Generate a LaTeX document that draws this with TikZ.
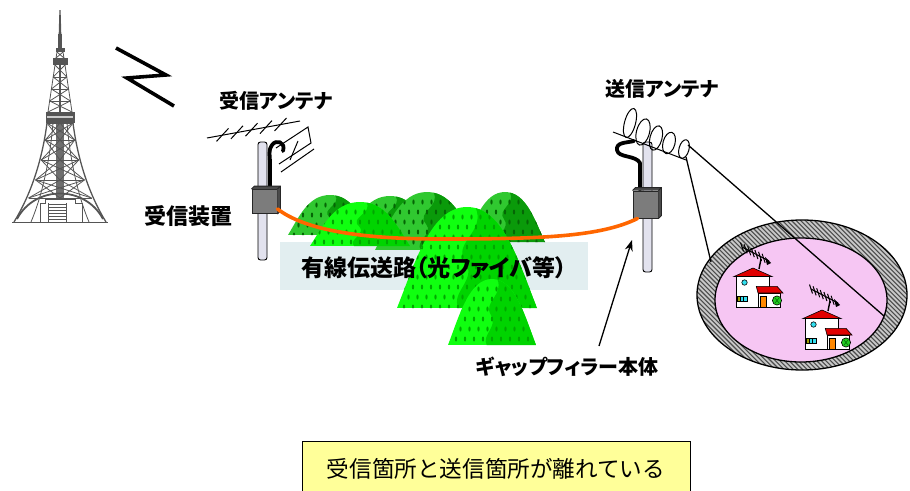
\documentclass[tikz,border=0pt]{standalone}
\usepackage{fontspec}
\newfontfamily\jp{Noto Sans CJK JP}[RawFeature=+palt]
\newfontfamily\jpm{Noto Sans CJK JP}
\usetikzlibrary{arrows.meta,calc}

\definecolor{cablecol}{HTML}{FF6600}
\definecolor{hillA}{HTML}{30C830}
\definecolor{hillAd}{HTML}{0A9A0A}
\definecolor{dotA}{HTML}{056605}
\definecolor{hillB}{HTML}{10FF10}
\definecolor{hillBd}{HTML}{00D400}
\definecolor{dotB}{HTML}{00A800}
\definecolor{pinkfill}{HTML}{F6C6F3}
\definecolor{ringgray}{HTML}{C8C8C8}
\definecolor{noteyellow}{HTML}{FFFF99}
\definecolor{polefill}{HTML}{E2E2EE}
\definecolor{boxfill}{HTML}{7C7C7C}
\definecolor{boxdark}{HTML}{4A4A4A}
\definecolor{textbg}{HTML}{E2EEF0}
\definecolor{towergray}{HTML}{555555}
\definecolor{roofred}{HTML}{E00000}
\definecolor{winblue}{HTML}{33E0F0}
\definecolor{doororange}{HTML}{FF8800}
\definecolor{treegreen}{HTML}{22CC22}
\definecolor{olivewin}{HTML}{A0A000}

\tikzset{
  lbl/.style={font=\jp\bfseries\fontsize{20}{22}\selectfont, inner sep=0pt},
  pole/.style={draw=black, fill=polefill, line width=0.9pt, rounded corners=2.5pt},
  devbox/.style={draw=black!85, fill=boxfill, line width=0.9pt, minimum width=25pt, minimum height=24pt, inner sep=0pt},
  blackcable/.style={line width=3.8pt, black, line cap=round, line join=round},
  fibre/.style={line width=3.6pt, cablecol, line cap=round},
  wirethin/.style={line width=1pt, black},
  pointer/.style={line width=1.3pt, -{Stealth[length=11pt,width=8pt]}},
  notebox/.style={draw=black, line width=0.9pt, fill=noteyellow, minimum width=388pt, minimum height=56pt, inner sep=0pt,
                  font=\jpm\fontsize{22.6}{24}\selectfont}
}

% one hill: peak x, peak y, half width, height, light, dark, dot colour
\newcommand\hill[7]{%
  \begin{scope}[shift={(#1,#2)}]
    \begin{scope}
      \clip (-#3,#4) .. controls ({-0.74*#3},{0.55*#4}) and ({-0.52*#3},0) .. (0,0)
            .. controls ({0.52*#3},0) and ({0.74*#3},{0.55*#4}) .. (#3,#4) -- cycle;
      \fill[#5] (-#3,0) rectangle (#3,#4);
      \fill[#6] ({0.12*#3},0) .. controls ({0.28*#3},{0.25*#4}) and ({-0.22*#3},{0.35*#4}) .. ({-0.02*#3},{0.55*#4})
            .. controls ({0.14*#3},{0.72*#4}) and ({-0.24*#3},{0.85*#4}) .. ({-0.12*#3},#4) -- (#3,#4) -- (#3,0) -- cycle;
      \pgfmathtruncatemacro\hnl{-#3/9}
      \pgfmathtruncatemacro\hnc{#3/9}
      \pgfmathtruncatemacro\hnr{#4/10}
      \foreach \i in {\hnl,...,\hnc}{%
        \foreach \j in {1,...,\hnr}{%
          \fill[#7] ({\i*9+mod(\j,2)*4.5},{\j*10}) ellipse [x radius=1.1, y radius=2.5];}}
    \end{scope}
  \end{scope}}

% one house with its roof aerial, roof apex at the given point
\newcommand\house[2]{%
  \begin{scope}[shift={(#1,#2)}, line width=0.6pt]
    \draw[line width=1.4pt] (6,1) -- (8,-9);
    \draw[line width=1.1pt] (-11,-21) -- (16,-7);
    \foreach \k in {0,...,6}{%
      \draw[line width=1pt] ({-11+\k*3.6-1.5},{-21+\k*1.87-4.5}) -- ({-11+\k*3.6+1.5},{-21+\k*1.87+4.5});}
    \fill[black] (12,-11) -- (18,-5) -- (14,-3) -- cycle;
    \draw[fill=roofred] (-19,8.5) -- (0,0) -- (19,8.5) -- cycle;
    \draw[fill=white] (-16.5,8.5) rectangle (16.5,39);
    \draw[fill=winblue] (-8.5,14.5) circle [radius=2.7];
    \draw[fill=olivewin] (-16,28.5) rectangle (-13,33.5);
    \draw[fill=winblue] (-13,28.5) rectangle (-9.5,33.5);
    \draw[fill=winblue] (-9.5,28.5) rectangle (-6,33.5);
    \draw[fill=white] (5,25) rectangle (27,39);
    \draw[fill=roofred] (3.3,18.3) -- (24,18.3) -- (30,25) -- (5,25) -- cycle;
    \draw[fill=doororange] (7.5,28) rectangle (13,39);
    \draw[fill=treegreen] (24,32.5) circle [radius=4.6];
    \draw[green!40!black, line width=0.5pt] (22,30) -- (26,35) (26,30) -- (22,35);
  \end{scope}}

\begin{document}
\begin{tikzpicture}[x=1pt, y=-1pt]
\useasboundingbox (0,0) rectangle (910,490);

% ---------------- broadcasting tower ----------------
\begin{scope}[draw=towergray, line width=0.8pt]
  \fill[towergray] (59.4,10) -- (60.6,10) -- (61.3,34) -- (58.7,34) -- cycle;
  \fill[towergray] (58.2,34) rectangle (61.8,48);
  \fill[towergray] (55.5,48) rectangle (64.5,52);
  \draw (57,52) -- (56,58) (63,52) -- (64,58) (57,52) -- (64,58) (63,52) -- (56,58);
  \fill[towergray] (52.5,58) rectangle (67.5,65);
  \foreach \a/\b in {65/77,77/89,89/101,101/112}{%
    \pgfmathsetmacro\xla{55-(\a-65)*7/47}
    \pgfmathsetmacro\xlb{55-(\b-65)*7/47}
    \draw (\xla,\a) -- (\xlb,\b) (120-\xla,\a) -- (120-\xlb,\b);
    \draw (\xla,\a) -- (120-\xlb,\b) (120-\xla,\a) -- (\xlb,\b);
    \draw (\xlb,\b) -- (120-\xlb,\b);}
  \draw[line width=2pt] (60,65) -- (60,112);
  \fill[towergray] (45.5,112) rectangle (74.5,123);
  \fill[white!70!towergray] (47,116) rectangle (73,118);
  % legs
  \draw[line width=1.3pt] (47,123) .. controls (42,162) and (30,196) .. (14,222);
  \draw[line width=1.3pt] (73,123) .. controls (78,162) and (90,196) .. (106,222);
  \draw (53,123) .. controls (50,160) and (42,196) .. (31,222);
  \draw (67,123) .. controls (70,160) and (78,196) .. (89,222);
  \fill[towergray!85] (56,123) rectangle (64,199);
  \foreach \ya/\xa/\yb/\xb in {123/47/140/45.3, 140/45.3/160/41.2, 160/41.2/180/35.6, 180/35.6/198/28.5}{%
    \draw (\xa,\ya) -- (120-\xa,\ya);
    \draw (\xa,\ya) -- (60,\yb) (120-\xa,\ya) -- (60,\yb);
    \draw (\xb,\yb) -- (60,\ya) (120-\xb,\yb) -- (60,\ya);
    \draw (\xa,\ya) -- (120-\xb,\yb) (120-\xa,\ya) -- (\xb,\yb);}
  \draw (28.5,198) -- (91.5,198);
  % arch and base building
  \draw[line width=1.8pt] (17,219) .. controls (35,185) and (85,185) .. (103,219);
  \draw[fill=white] (40,203) -- (40,222) -- (82,222) -- (82,203) -- (75,203) -- (75,199) -- (45,199) -- (45,203) -- cycle;
  \foreach \yy in {204,207,...,220}{\draw[line width=0.6pt] (48,\yy) -- (66,\yy);}
  \draw[line width=0.6pt] (66,203) -- (66,222) (48,203) -- (48,222);
  \draw[line width=1pt] (12,222) -- (108,222);
\end{scope}

% radio waves
\draw[line width=3.6pt, line join=miter] (116,48) -- (166,75) -- (127,78) -- (174,106);

% ---------------- label band and hills ----------------
\fill[textbg] (280,242) rectangle (588,290);
\hill{330}{195}{42}{40}{hillA}{hillAd}{dotA}
\hill{390}{196}{46}{44}{hillA}{hillAd}{dotA}
\hill{427}{192}{52}{58}{hillA}{hillAd}{dotA}
\hill{505}{192}{40}{50}{hillA}{hillAd}{dotA}
\hill{360}{202}{50}{44}{hillB}{hillBd}{dotB}
\hill{467}{207}{70}{101}{hillB}{hillBd}{dotB}
\hill{492}{279}{44}{66}{hillB}{hillBd}{dotB}

% ---------------- receiving side ----------------
\node[pole, minimum width=9pt, minimum height=118pt, inner sep=0pt] (rxpole) at (262.5,201) {};
\draw[blackcable] (283,151) .. controls (286,142) and (276,139) .. (272,145)
      .. controls (268,150) and (270,156) .. (270,162) -- (270,189);
\node[devbox] (rxbox) at (264.5,201.5) {};
\fill[boxdark] (rxbox.north west) -- ($(rxbox.north west)+(3,-3)$) -- ($(rxbox.north east)+(3,-3)$)
      -- ($(rxbox.south east)+(3,-3)$) -- (rxbox.south east) -- (rxbox.north east) -- cycle;
\draw[black!85, line width=0.9pt] (rxbox.north west) -- ($(rxbox.north west)+(3,-3)$) -- ($(rxbox.north east)+(3,-3)$)
      -- ($(rxbox.south east)+(3,-3)$) -- (rxbox.south east) (rxbox.north east) -- ($(rxbox.north east)+(3,-3)$);
% yagi aerial
\draw[wirethin] (207,138) -- (300,121);
\foreach \k in {1,...,5}{%
  \draw[wirethin] ({207+\k*14.5-5},{138-\k*2.6+6}) -- ({207+\k*14.5+7},{138-\k*2.6-7});}
\draw[wirethin] (276,148) -- (308,127) -- (311,143) -- (279,164);
\draw[wirethin] (281,172) -- (314,149);
\draw[wirethin] (290,160) -- (298,141);
\node[lbl] (rxant) at (276,101) {受信アンテナ};
\node[lbl, font=\jp\bfseries\fontsize{22}{24}\selectfont] (rxdev) at (188,216) {受信装置};

% ---------------- transmitting side ----------------
\node[pole, minimum width=9pt, minimum height=130pt, inner sep=0pt] (txpole) at (647.5,207) {};
\draw[blackcable] (634,141) .. controls (626,143) and (616,142) .. (617,150)
      .. controls (618,158) and (636,155) .. (640,163) -- (640,190);
\node[devbox, minimum height=27pt] (txbox) at (645.5,204.5) {};
\fill[boxdark] (txbox.north west) -- ($(txbox.north west)+(3,-3)$) -- ($(txbox.north east)+(3,-3)$)
      -- ($(txbox.south east)+(3,-3)$) -- (txbox.south east) -- (txbox.north east) -- cycle;
\draw[black!85, line width=0.9pt] (txbox.north west) -- ($(txbox.north west)+(3,-3)$) -- ($(txbox.north east)+(3,-3)$)
      -- ($(txbox.south east)+(3,-3)$) -- (txbox.south east) (txbox.north east) -- ($(txbox.north east)+(3,-3)$);
% helical aerial
\draw[wirethin] (613,132) -- (686,160);
\foreach \cx/\cy/\rx/\ry in {630/123/5.5/15, 643/132/6.5/13.5, 656/138/6/12.5, 669/143/6/11, 684/149/5/9.5}{%
  \draw[wirethin, rotate around={-15:(\cx,\cy)}] (\cx,\cy) ellipse [x radius=\rx, y radius=\ry];}
\coordinate (helixA) at (688,145);
\coordinate (helixB) at (686,157);
\node[lbl] (txant) at (662,89) {送信アンテナ};

% ---------------- optical fibre ----------------
\draw[fibre] ($(rxbox.south east)+(0,-5)$) .. controls (305,230) and (360,239) .. (440,239)
      .. controls (540,239) and (600,237) .. ($(txbox.south west)+(5,0)$);
\node[lbl, font=\jp\bfseries\fontsize{23}{25}\selectfont] (fibrelbl) at (434,268) {有線伝送路（光ファイバ等）};

% ---------------- service area ----------------
\begin{scope}
  \clip (802,295) ellipse [x radius=105, y radius=75];
  \fill[ringgray] (690,215) rectangle (910,375);
  \foreach \k in {0,...,85}{%
    \draw[line width=1.1pt, black!70] ({530+\k*4.6},212) -- ({690+\k*4.6},372);}
\end{scope}
\draw[line width=1.3pt] (802,295) ellipse [x radius=105, y radius=75];
\draw[line width=1.3pt, fill=pinkfill] (801,300) ellipse [x radius=86, y radius=62];
\house{753}{268}
\house{822}{310}
\coordinate (viewA) at (884,316);
\coordinate (viewB) at (711,262);
\draw[line width=1.3pt] (helixA) -- (viewA);
\draw[line width=1.3pt] (helixB) -- (viewB);

% ---------------- gap filler pointer ----------------
\node[lbl] (gaplbl) at (567,367) {ギャップフィラー本体};
\coordinate (gaptail) at (599,346);
\coordinate (gaptip) at (632,240);
\draw[pointer] (gaptail) -- (gaptip);

% ---------------- note ----------------
\node[notebox] (note) at (496,469) {受信箇所と送信箇所が離れている};

\end{tikzpicture}
\end{document}
